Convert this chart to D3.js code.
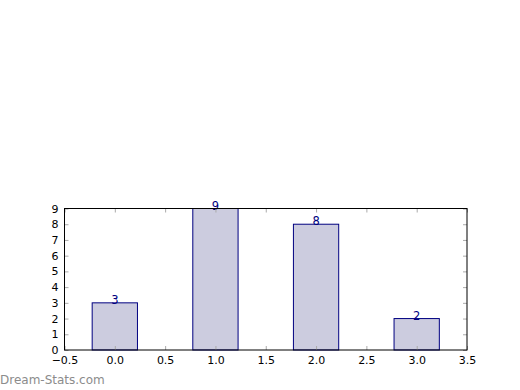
<!DOCTYPE html>
<html>
<head>
<meta charset="utf-8">
<script src="https://cdn.jsdelivr.net/npm/d3@7"></script>
<style>
  body { margin: 0; background: #fff; }
  svg { display: block; font-family: "DejaVu Sans", sans-serif; }
</style>
</head>
<body>
<div id="chart"></div>
<script>
const positions = [0, 1, 2, 3];
const counts = [3, 9, 8, 2];
const xTicks = [-0.5, 0, 0.5, 1, 1.5, 2, 2.5, 3, 3.5];
const yTicks = [0, 1, 2, 3, 4, 5, 6, 7, 8, 9];

const w = 520, h = 390;
const margin = { top: 208.5, right: 53, bottom: 40, left: 64.5 };

const svg = d3.select("#chart").append("svg")
  .attr("width", w)
  .attr("height", h);

const x = d3.scaleLinear().domain([-0.5, 3.5]).range([margin.left, w - margin.right]);
const y = d3.scaleLinear().domain([0, 9]).range([h - margin.bottom, margin.top]);
const barW = 0.45;

// bars
svg.selectAll("rect.bar")
  .data(positions)
  .enter().append("rect")
  .attr("class", "bar")
  .attr("x", (d) => x(d - barW / 2))
  .attr("y", (d, i) => y(counts[i]))
  .attr("width", x(barW) - x(0))
  .attr("height", (d, i) => y(0) - y(counts[i]))
  .attr("fill", "#ccccdf")
  .attr("stroke", "#000080")
  .attr("stroke-width", 1);

// value labels
svg.selectAll("text.val")
  .data(positions)
  .enter().append("text")
  .attr("class", "val")
  .attr("x", (d) => x(d))
  .attr("y", (d, i) => y(counts[i]) + 1)
  .attr("text-anchor", "middle")
  .attr("font-size", 11.5)
  .attr("fill", "#000080")
  .text((d, i) => counts[i]);

// ticks inside the frame
const tickColor = "#aaa";
const fmtX = (d) => d3.format(".1f")(d).replace("-", "\u2212");

const xBottom = d3.axisBottom(x).tickValues(xTicks).tickSizeInner(-4).tickSizeOuter(0).tickPadding(6).tickFormat(fmtX);
const xTop = d3.axisTop(x).tickValues(xTicks).tickSizeInner(-4).tickSizeOuter(0).tickFormat("");
const yLeft = d3.axisLeft(y).tickValues(yTicks).tickSizeInner(-4).tickSizeOuter(0).tickPadding(6).tickFormat(d3.format("d"));
const yRight = d3.axisRight(y).tickValues(yTicks).tickSizeInner(-4).tickSizeOuter(0).tickFormat("");

function styleAxis(g) {
  g.select(".domain").remove();
  g.selectAll(".tick line").attr("stroke", tickColor);
  g.selectAll(".tick text").attr("fill", "#000").attr("font-size", 11).attr("font-family", "DejaVu Sans, sans-serif");
}

svg.append("g").attr("transform", "translate(0," + y(0) + ")").call(xBottom).call(styleAxis);
svg.append("g").attr("transform", "translate(0," + y(9) + ")").call(xTop).call(styleAxis);
svg.append("g").attr("transform", "translate(" + x(-0.5) + ",0)").call(yLeft).call(styleAxis);
svg.append("g").attr("transform", "translate(" + x(3.5) + ",0)").call(yRight).call(styleAxis);

// frame
svg.append("rect")
  .attr("x", x(-0.5))
  .attr("y", y(9))
  .attr("width", x(3.5) - x(-0.5))
  .attr("height", y(0) - y(9))
  .attr("fill", "none")
  .attr("stroke", "#000")
  .attr("stroke-width", 1);

// watermark
svg.append("text")
  .attr("x", 0)
  .attr("y", 384)
  .attr("font-size", 12)
  .attr("fill", "#8c8c8c")
  .text("Dream-Stats.com");
</script>
</body>
</html>
